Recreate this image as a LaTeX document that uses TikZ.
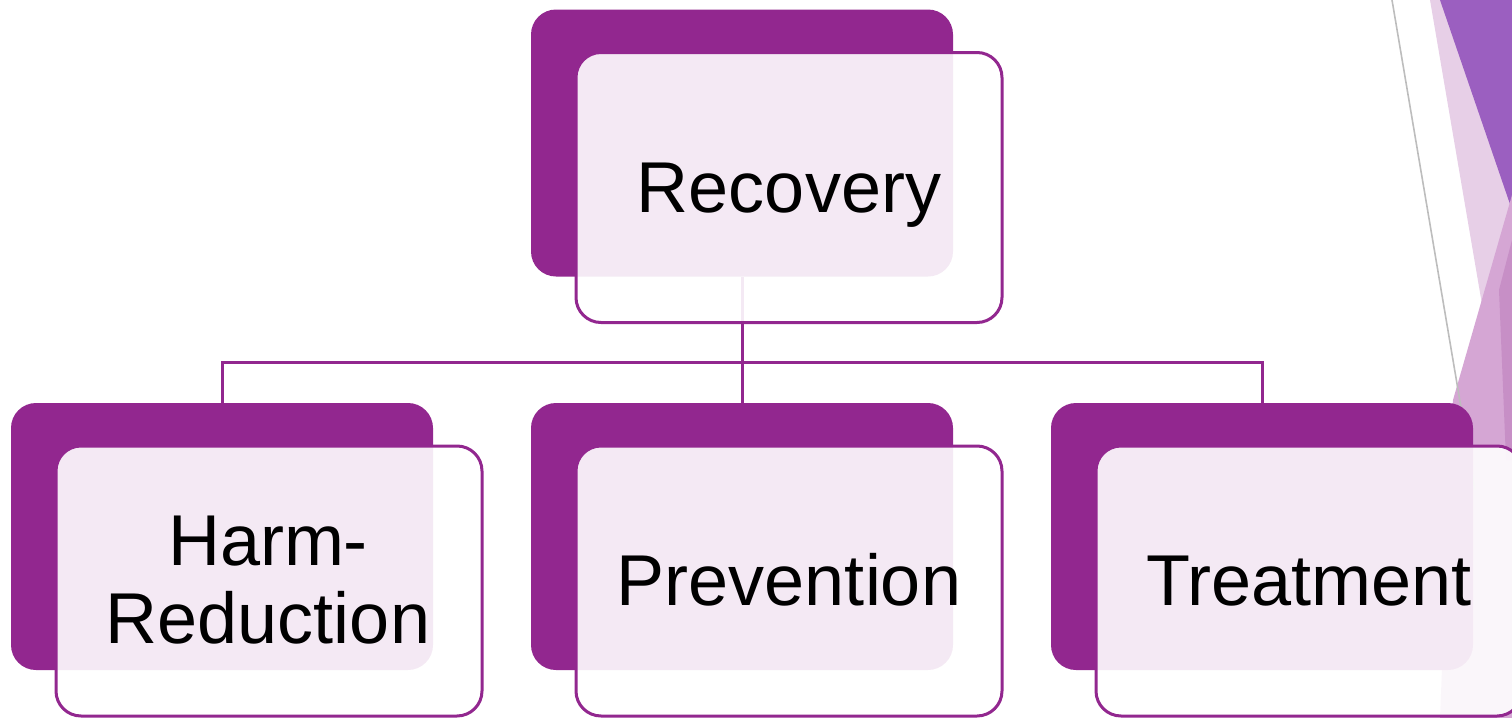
\documentclass[tikz,border=0pt]{standalone}
\usepackage{fontspec}
\setmainfont{Liberation Sans}
\definecolor{plum}{HTML}{92278F}
\definecolor{facetA}{HTML}{E7CFE7}
\definecolor{facetB}{HTML}{9B5FC0}
\definecolor{facetC}{HTML}{D5A6D4}
\definecolor{facetD}{HTML}{C78FC6}
\definecolor{facetline}{HTML}{BDBDBD}
\tikzset{
  backbox/.style={fill=plum, draw=none, rounded corners=12.5pt, minimum width=211pt, minimum height=133.5pt, inner sep=0pt},
  frontbox/.style={fill=white, fill opacity=0.9, draw=plum, line width=1.5pt, rounded corners=12.5pt, minimum width=213pt, minimum height=135pt, inner sep=0pt},
  conn/.style={draw=plum, line width=1.5pt},
  lbl/.style={font=\fontsize{36}{39}\selectfont, text=black, align=center, inner sep=0pt, anchor=base}
}
\begin{document}
\begin{tikzpicture}[x=0.5pt,y=-0.5pt]
\useasboundingbox (0,0) rectangle (1512,718);
\clip (0,0) rectangle (1512,718);
% background facets
\fill[facetA] (1430,0) -- (1512,0) -- (1512,480) -- cycle;
\fill[facetB] (1440,0) -- (1512,0) -- (1512,210) -- cycle;
\fill[facetC] (1512,195) -- (1453,400) -- (1440,718) -- (1512,718) -- cycle;
\fill[facetD] (1512,240) -- (1499,290) -- (1506,460) -- (1512,460) -- cycle;
\draw[facetline, line width=0.8pt] (1392,0) -- (1475,490);
% back boxes
\node[backbox] (rb) at (742,143) {};
\node[backbox] (hb) at (222,536.5) {};
\node[backbox] (pb) at (742,536.5) {};
\node[backbox] (tb) at (1262,536.5) {};
% connectors
\draw[conn] (rb.south) -- ++(0,86) coordinate (mid) -| (hb.north);
\draw[conn] (mid) -- (pb.north);
\draw[conn] (mid) -| (tb.north);
% front boxes
\node[frontbox] (rf) at (789,187.5) {};
\node[frontbox] (hf) at (269,581) {};
\node[frontbox] (pf) at (789,581) {};
\node[frontbox] (tf) at (1309,581) {};
% labels
\node[lbl] (rl) at (789,212) {Recovery};
\node[lbl] (hl1) at (268,565) {Harm-};
\node[lbl] (hl2) at (268,643) {Reduction};
\node[lbl] (pl) at (789,605) {Prevention};
\node[lbl] (tl) at (1309,605) {Treatment};
\end{tikzpicture}
\end{document}
